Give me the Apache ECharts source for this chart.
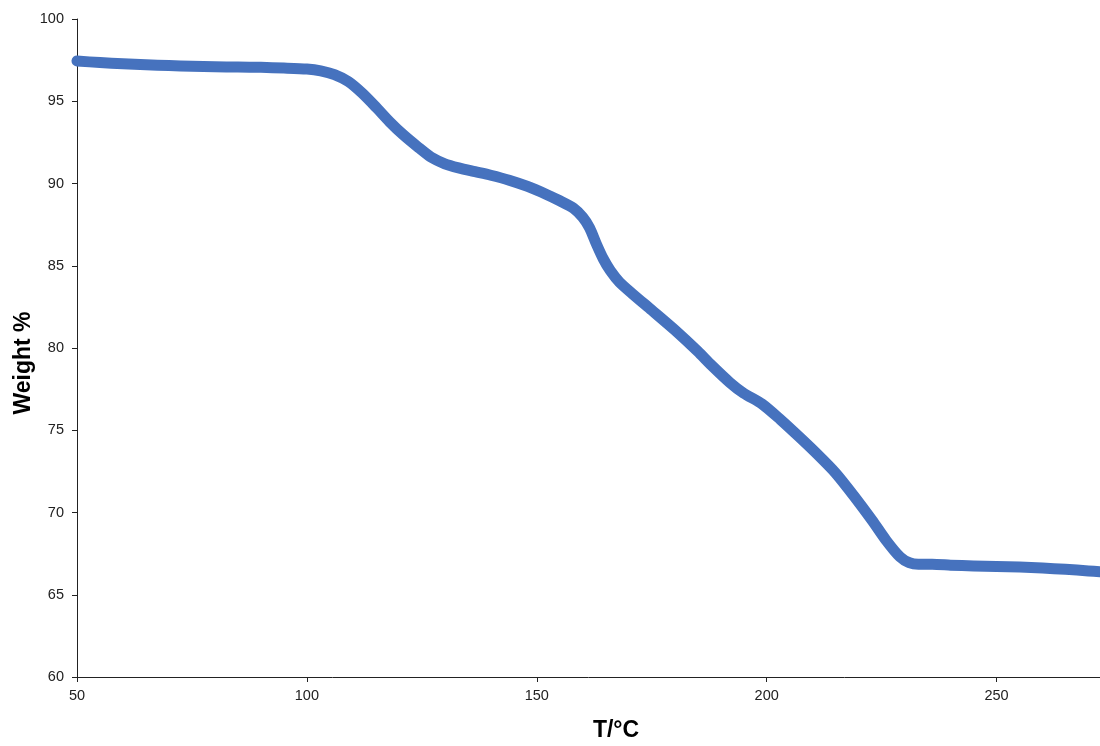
<!DOCTYPE html>
<html>
<head>
<meta charset="utf-8">
<script src="https://cdn.jsdelivr.net/npm/echarts@6/dist/echarts.min.js"></script>
<style>
  html, body { margin: 0; padding: 0; background: #fff; }
  #chart { width: 1100px; height: 746px; }
</style>
</head>
<body>
<div id="chart"></div>
<script>
// Thermogravimetric curve: temperature (°C) vs remaining weight (%)
const temperature = [
  50, 55, 60, 65, 70, 75, 80, 85, 90, 95, 100, 103, 106, 109, 112, 115, 118, 121,
  124, 127, 130, 133, 136, 140, 144, 148, 152, 155, 158, 160, 161.5, 163, 164.5,
  166, 168, 171, 175, 180, 185, 188, 192, 195, 199, 203, 207, 211, 215, 219, 223,
  226, 229, 231, 233, 236, 240, 245, 250, 255, 260, 265, 270, 272.5
];
const weight = [
  97.45, 97.35, 97.28, 97.22, 97.17, 97.13, 97.1, 97.08, 97.06, 97.02, 96.96, 96.85,
  96.62, 96.2, 95.5, 94.65, 93.75, 92.95, 92.25, 91.6, 91.2, 90.95, 90.75, 90.5,
  90.2, 89.82, 89.35, 88.95, 88.5, 87.95, 87.3, 86.3, 85.4, 84.7, 84.0, 83.25, 82.3,
  81.1, 79.8, 78.95, 77.9, 77.25, 76.6, 75.65, 74.62, 73.55, 72.4, 71.0, 69.5, 68.3,
  67.3, 66.95, 66.85, 66.85, 66.8, 66.75, 66.72, 66.68, 66.62, 66.55, 66.45, 66.4
];
const xTicks = [50, 100, 150, 200, 250];
const yTicks = [60, 65, 70, 75, 80, 85, 90, 95, 100];

const points = temperature.map((t, i) => [t, weight[i]]);

const chart = echarts.init(document.getElementById('chart'), null, { renderer: 'canvas' });
const axisColor = '#222';
const labelStyle = { color: '#222', fontSize: 14.5, fontFamily: 'Liberation Sans, Arial, sans-serif' };
const titleFont = 'bold 23px "Liberation Sans", Arial, sans-serif';

chart.setOption({
  animation: false,
  backgroundColor: '#fff',
  grid: { left: 77, right: 0, top: 19, bottom: 69, containLabel: false },
  xAxis: {
    type: 'value',
    min: 50,
    max: 272.5,
    interval: 50,
    axisLine: { show: true, lineStyle: { color: axisColor, width: 1 } },
    axisTick: { show: true, length: 5, inside: false, lineStyle: { color: axisColor }, customValues: xTicks },
    axisLabel: { ...labelStyle, margin: 11, customValues: xTicks },
    splitLine: { show: false }
  },
  yAxis: {
    type: 'value',
    min: 60,
    max: 100,
    interval: 5,
    axisLine: { show: true, lineStyle: { color: axisColor, width: 1 } },
    axisTick: { show: true, length: 5, inside: false, lineStyle: { color: axisColor }, customValues: yTicks },
    axisLabel: { ...labelStyle, margin: 13, customValues: yTicks },
    splitLine: { show: false }
  },
  graphic: [
    {
      type: 'text',
      x: 616, y: 731,
      style: { text: 'T/°C', fill: '#000', font: titleFont, textAlign: 'center', textVerticalAlign: 'middle' }
    },
    {
      type: 'text',
      x: 24, y: 363,
      rotation: Math.PI / 2,
      style: { text: 'Weight %', fill: '#000', font: titleFont, textAlign: 'center', textVerticalAlign: 'middle' }
    }
  ],
  series: [{
    type: 'line',
    data: points,
    smooth: 0.25,
    showSymbol: false,
    clip: true,
    lineStyle: { color: '#4672BE', width: 11, cap: 'round', join: 'round' }
  }]
});
</script>
</body>
</html>
